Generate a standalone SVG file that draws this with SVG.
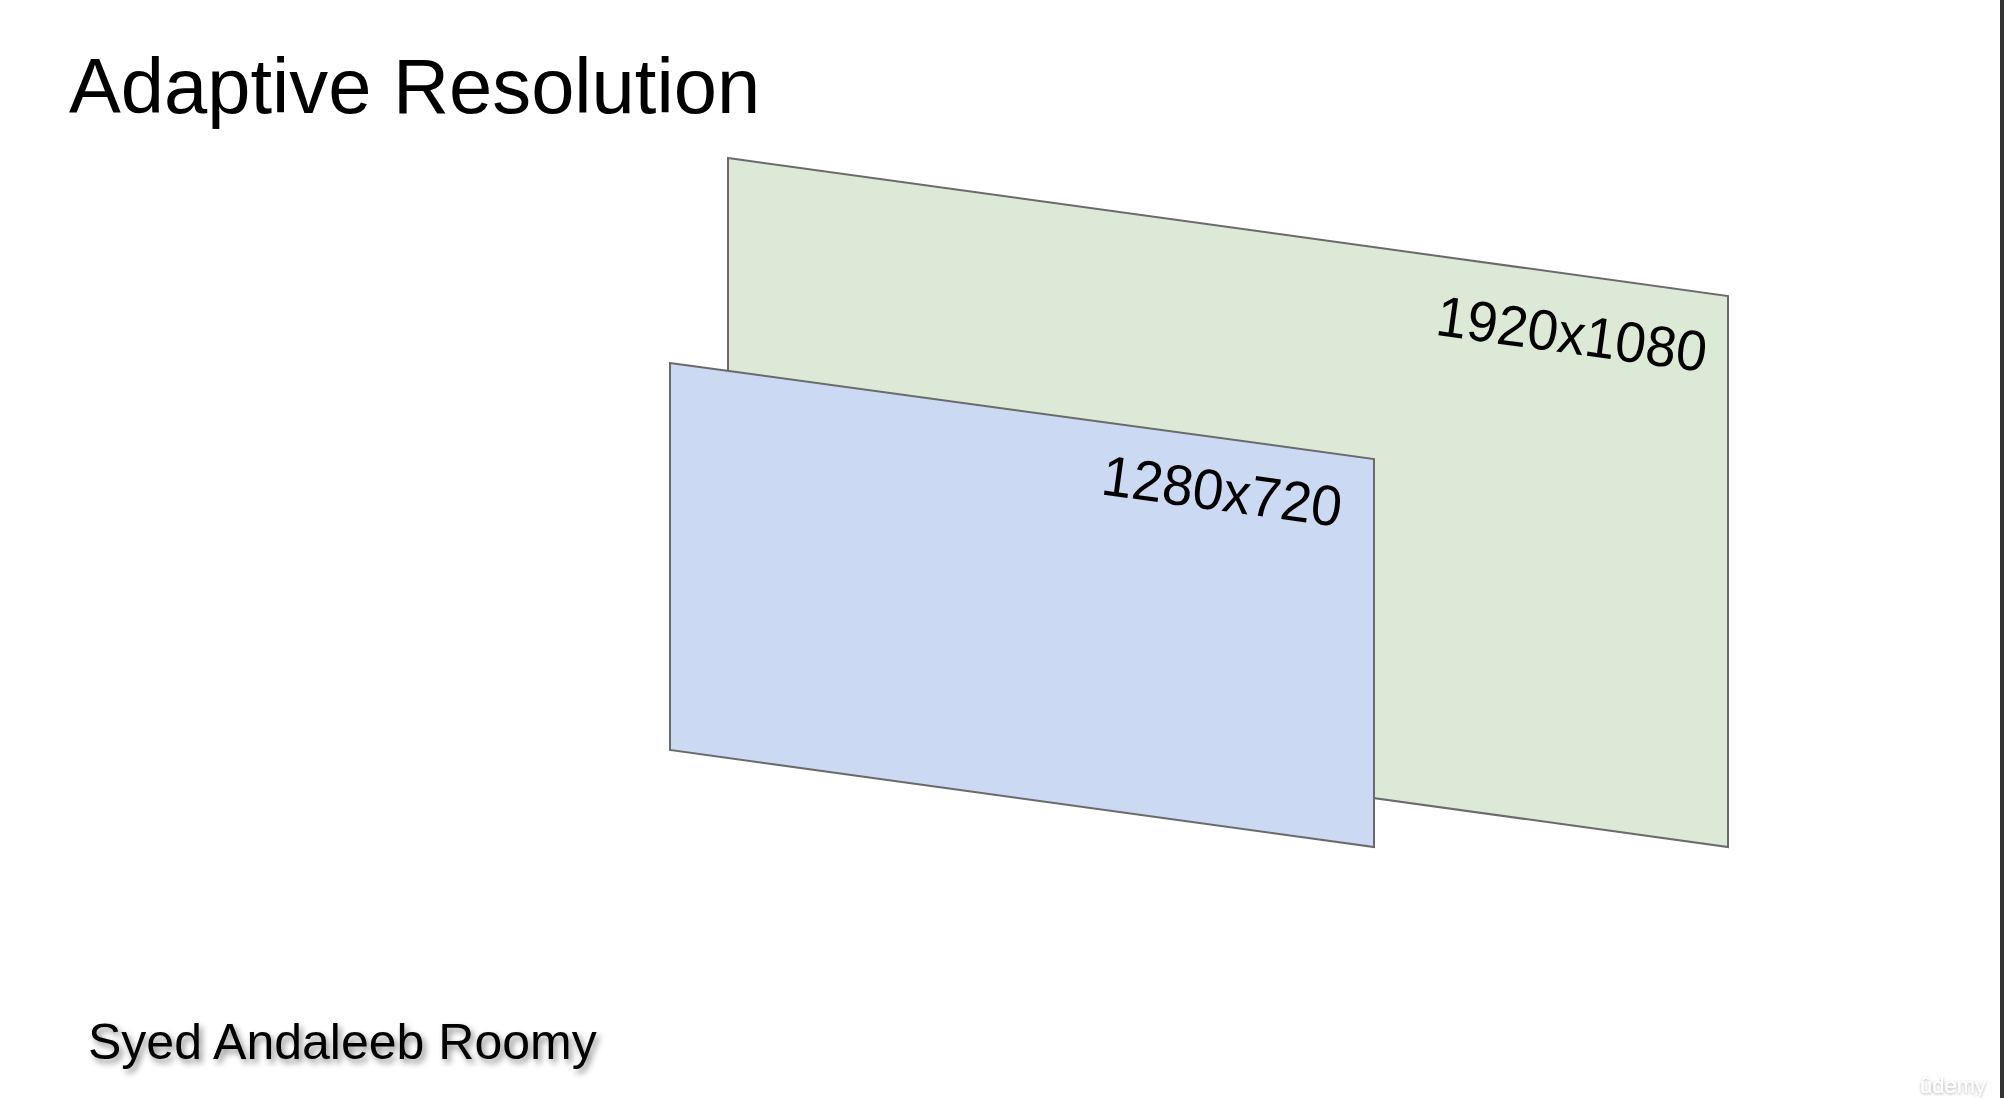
<svg xmlns="http://www.w3.org/2000/svg" width="2004" height="1098" viewBox="0 0 2004 1098">
  <defs>
    <style>
      .plane { stroke: #6a6a6a; stroke-width: 2; stroke-linejoin: miter; }
      .lbl { font-family: "Liberation Sans", Arial, sans-serif; font-size: 57px; fill: #000; }
    </style>
    <filter id="shadow" x="-10%" y="-30%" width="120%" height="160%">
      <feDropShadow dx="3" dy="4" stdDeviation="3" flood-color="#000" flood-opacity="0.45"/>
    </filter>
    <filter id="wm" x="-20%" y="-40%" width="140%" height="180%">
      <feDropShadow dx="0" dy="1" stdDeviation="1.5" flood-color="#000" flood-opacity="0.35"/>
    </filter>
  </defs>
  <rect x="0" y="0" width="2004" height="1098" fill="#ffffff"/>
  <rect x="2000" y="0" width="4" height="1098" fill="#333333"/>

  <text id="title" x="69" y="113" font-family="Liberation Sans, Arial, sans-serif" font-size="78.5" fill="#000" transform="translate(69,0) scale(0.99,1) translate(-69,0)">Adaptive Resolution</text>

  <g id="plane-1920">
    <polygon class="plane" fill="#dce9d6" points="728,158 1728,296 1728,847 728,709"/>
    <text class="lbl" text-anchor="end" transform="translate(1704,372) rotate(7.85) scale(0.965,1)">1920x1080</text>
  </g>

  <g id="plane-1280">
    <polygon class="plane" fill="#cbd9f3" points="670,363 1374,459 1374,847 670,750"/>
    <text class="lbl" text-anchor="end" transform="translate(1339,527) rotate(7.8) scale(0.965,1)">1280x720</text>
  </g>

  <g id="connectors"></g>

  <text id="author" x="88" y="1059" font-family="Liberation Sans, Arial, sans-serif" font-size="50" fill="#000" filter="url(#shadow)">Syed Andaleeb Roomy</text>

  <text id="watermark" x="1920" y="1093" font-family="Liberation Sans, Arial, sans-serif" font-size="22" fill="#ffffff" filter="url(#wm)">ûdemy</text>
</svg>
